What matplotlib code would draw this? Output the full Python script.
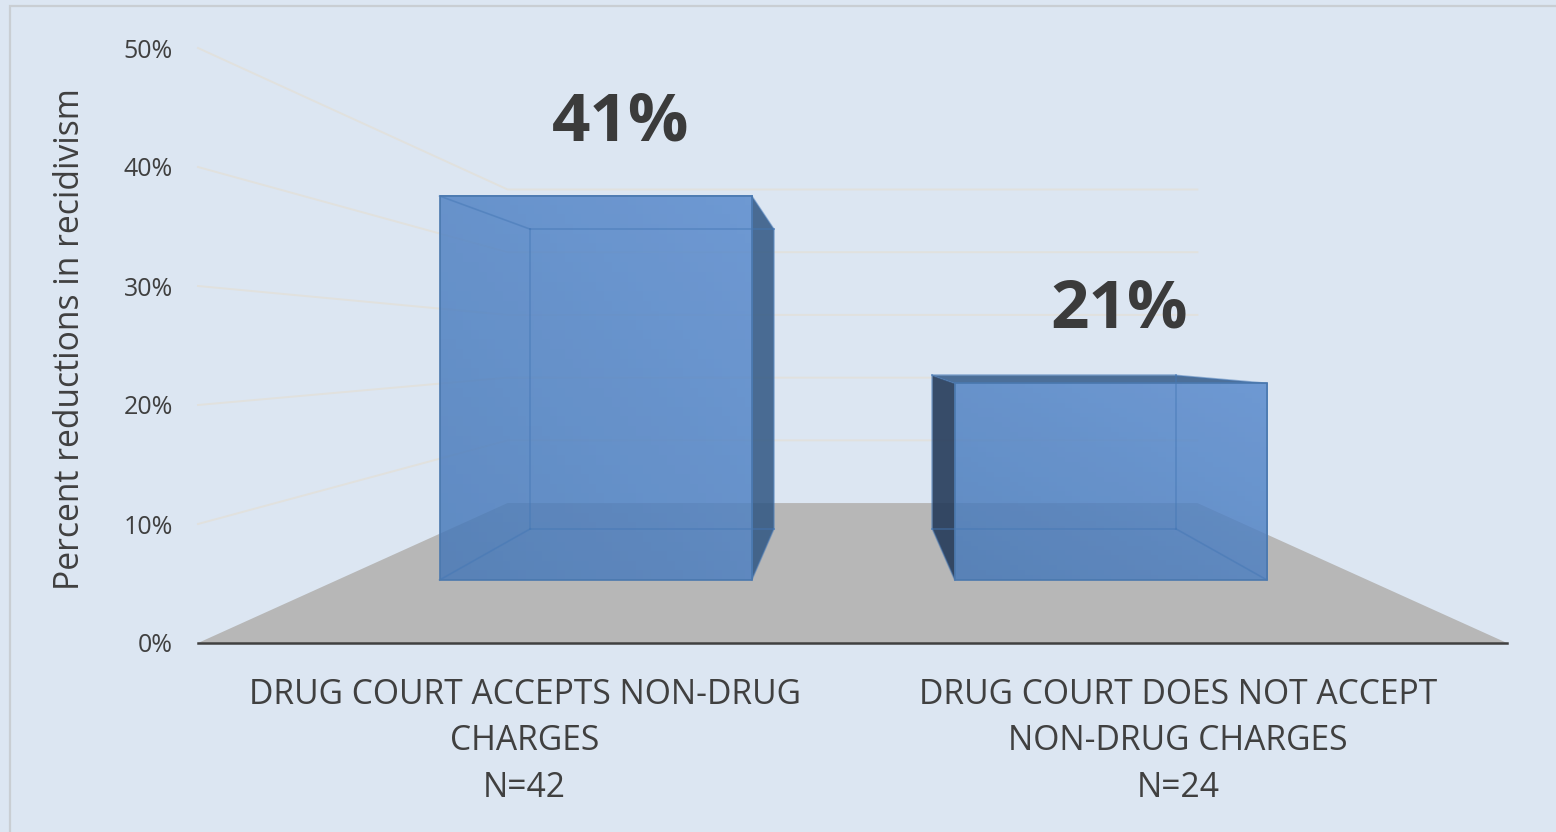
import numpy as np
import matplotlib
matplotlib.use('Agg')
import matplotlib.pyplot as plt
from matplotlib.colors import LinearSegmentedColormap
from matplotlib.patches import Polygon, Rectangle

plt.rcParams['font.family'] = ['Open Sans', 'DejaVu Sans']

# Data
categories = ['DRUG COURT ACCEPTS NON-DRUG\nCHARGES\nN=42',
              'DRUG COURT DOES NOT ACCEPT\nNON-DRUG CHARGES\nN=24']
reductions = [41, 21]
value_labels = ['41%', '21%']
y_ticks = [0, 10, 20, 30, 40, 50]
y_tick_labels = ['0%', '10%', '20%', '30%', '40%', '50%']

W, H = 1556, 832
BG = '#DCE6F2'
TEXT = '#404040'

# perspective of the fake 3D box
BACK_SCALE = 0.527
BACK_RISE = 11.76
BAR_FRONT = 0.45
BAR_BACK = 0.815
BAR_WIDTH = 0.303
bar_pos = [-0.2493, 0.2508]
tick_pos = [-0.2505, 0.2485]
label_dx = [0.019, 0.006]


def project(u, depth, v):
    s = 1 - depth * (1 - BACK_SCALE)
    return u * s, v * s + BACK_RISE * depth


fig = plt.figure(figsize=(W / 100, H / 100), dpi=100, facecolor=BG)
ax = fig.add_axes([198 / W, 1 - 643 / H, (1507 - 198) / W, (643 - 48) / H])
ax.patch.set_visible(False)

# outer frame of the chart
fig.add_artist(Rectangle((10 / W, -0.02), 1.1, 1 - 6 / H + 0.02, transform=fig.transFigure,
                         fill=False, edgecolor='#C9CED3', linewidth=1.6))

# floor
floor = [project(-0.5, 0, 0), project(0.5, 0, 0), project(0.5, 1, 0), project(-0.5, 1, 0)]
ax.add_patch(Polygon(floor, closed=True, facecolor='#B7B7B7', edgecolor='none', zorder=1))

# gridlines on the left and back walls
for v in y_ticks[1:]:
    pts = np.array([project(-0.5, 0, v), project(-0.5, 1, v), project(0.5, 1, v)])
    ax.plot(pts[:, 0], pts[:, 1], color='#E1E1DE', linewidth=1.4, zorder=2, clip_on=False)


def face(corners, color, alpha, z):
    ax.add_patch(Polygon(corners, closed=True, facecolor=color, edgecolor='none',
                         alpha=alpha, zorder=z, clip_on=False))


blues = LinearSegmentedColormap.from_list('b', ['#4477B8', '#5688CC'])
xs, ys = np.meshgrid(np.linspace(0, 1, 40), np.linspace(0, 1, 40))
grad = 0.55 * ys + 0.45 * xs

for i, val in enumerate(reductions):
    x0 = bar_pos[i] - BAR_WIDTH / 2
    x1 = bar_pos[i] + BAR_WIDTH / 2
    fbl, fbr = project(x0, BAR_FRONT, 0), project(x1, BAR_FRONT, 0)
    ftl, ftr = project(x0, BAR_FRONT, val), project(x1, BAR_FRONT, val)
    bbl, bbr = project(x0, BAR_BACK, 0), project(x1, BAR_BACK, 0)
    btl, btr = project(x0, BAR_BACK, val), project(x1, BAR_BACK, val)

    # darker side and top faces, only seen where they stick out of the front
    if x1 < 0:
        face([fbr, ftr, btr, bbr], '#2F5683', 0.85, 3)
    else:
        face([fbl, ftl, btl, bbl], '#253B5A', 0.9, 3)
        face([ftl, ftr, btr, btl], '#3C628F', 0.9, 3)

    # front face with a soft gradient, lighter towards the top right
    ax.imshow(grad, extent=[fbl[0], fbr[0], fbl[1], ftl[1]], origin='lower', aspect='auto',
              cmap=blues, alpha=0.82, zorder=4, clip_on=False)

    # edges of the box, seen through the front
    for a, b in [(btl, btr), (btr, bbr), (btl, bbl), (bbl, bbr), (ftl, btl), (ftr, btr), (fbl, bbl), (fbr, bbr)]:
        ax.plot([a[0], b[0]], [a[1], b[1]], color='#4477B5', linewidth=1.2, alpha=0.5, zorder=5, clip_on=False)
    ax.add_patch(Polygon([fbl, fbr, ftr, ftl], closed=True, fill=False, edgecolor='#4A78AE',
                         linewidth=1.2, zorder=6, clip_on=False))

    cx = project(bar_pos[i], BAR_FRONT, val)
    ax.text(cx[0] + label_dx[i], cx[1] + 6.17, value_labels[i], ha='center', va='center',
            fontsize=48.5, fontweight='bold', color='#3B3B3B', zorder=7)

ax.set_xlim(-0.5, 0.5)
ax.set_ylim(0, 50)
ax.set_xticks(tick_pos)
ax.set_xticklabels(categories, fontsize=24.2, color=TEXT, linespacing=1.48)
ax.set_yticks(y_ticks)
ax.set_yticklabels(y_tick_labels, fontsize=18, color=TEXT)
ax.tick_params(axis='both', length=0)
ax.tick_params(axis='y', pad=18)
ax.tick_params(axis='x', pad=25)
for side in ['top', 'right', 'left']:
    ax.spines[side].set_visible(False)
ax.spines['bottom'].set_color('#404040')
ax.spines['bottom'].set_linewidth(1.8)

ax.set_ylabel('Percent reductions in recidivism', fontsize=24.2, color=TEXT)
ax.yaxis.set_label_coords((87 - 198) / (1507 - 198), (643 - 339) / (643 - 48))

fig.savefig('out.png', dpi=100, facecolor=BG)
